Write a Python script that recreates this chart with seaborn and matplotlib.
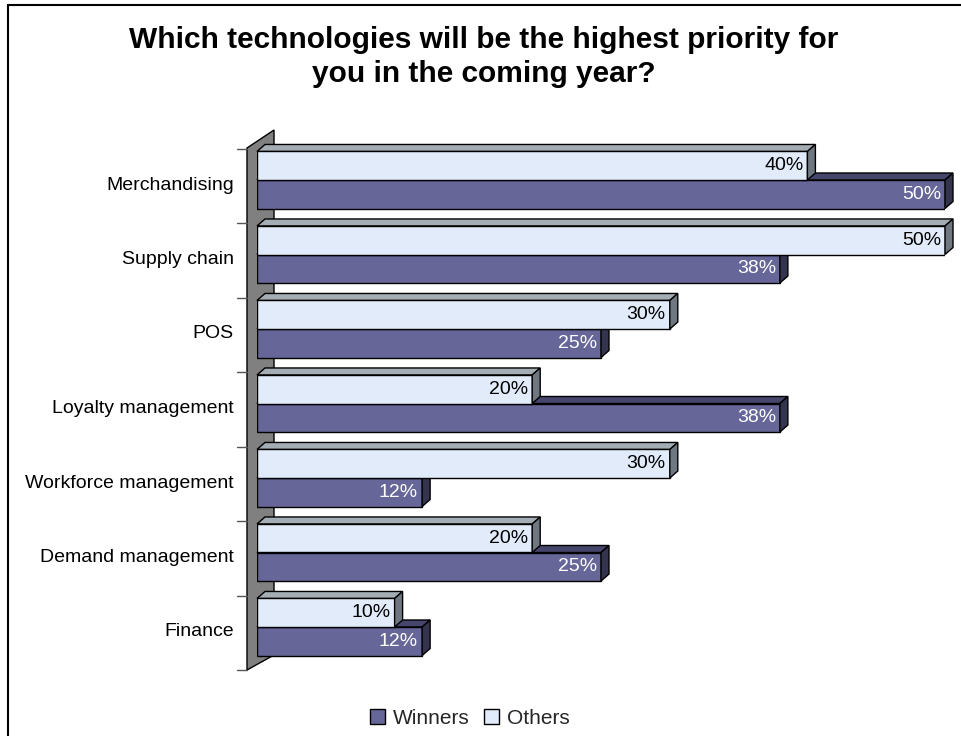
import numpy as np
import pandas as pd
import seaborn as sns
import matplotlib
matplotlib.use("Agg")
import matplotlib.pyplot as plt
from matplotlib.patches import Polygon, Patch
from matplotlib.lines import Line2D

categories = ["Merchandising", "Supply chain", "POS", "Loyalty management",
              "Workforce management", "Demand management", "Finance"]
winners = [50, 38, 25, 38, 12, 25, 12]
others = [40, 50, 30, 20, 30, 20, 10]

title_lines = ["Which technologies will be the highest priority for",
               "you in the coming year?"]

sns.set_theme(style="white")
plt.rcParams["font.family"] = ["Liberation Sans", "DejaVu Sans"]

W, H = 962, 736
fig = plt.figure(figsize=(W / 100, H / 100), dpi=100)
fig.patch.set_facecolor("white")

# plot area in pixel terms
PX_L, PX_R = 257, 945
PY_T, PY_B = 142.75, 664.25
ax = fig.add_axes([PX_L / W, 1 - PY_B / H, (PX_R - PX_L) / W, (PY_B - PY_T) / H])
ax.set_facecolor("none")

df = pd.DataFrame({
    "category": categories * 2,
    "group": ["Winners"] * len(categories) + ["Others"] * len(categories),
    "value": winners + others,
})

col = {
    "Others": {"front": "#E1EBF9", "top": "#A4ACB4", "side": "#6F7780"},
    "Winners": {"front": "#666699", "top": "#46466C", "side": "#34344F"},
}

sns.barplot(data=df, y="category", x="value", hue="group",
            hue_order=["Others", "Winners"], order=categories,
            palette={k: v["front"] for k, v in col.items()},
            orient="h", width=0.766, saturation=1,
            edgecolor="black", linewidth=1.0, legend=False, ax=ax)

ax.set_xlim(0, 50)
ax.set_ylim(6.5, -0.5)
for s in ax.spines.values():
    s.set_visible(False)
ax.set_xticks([])
ax.set_yticks([])
ax.set_xlabel("")
ax.set_ylabel("")

# pixel -> data helpers
sx = (PX_R - PX_L) / 50.0
sy = (PY_B - PY_T) / 7.0
def xd(px):
    return (px - PX_L) / sx
def yd(py):
    return -0.5 + (py - PY_T) / sy

DX = 8 / sx
DY = -7 / sy

# side wall
wall = Polygon([(xd(247), yd(148)), (xd(274), yd(130)),
                (xd(274), yd(655)), (xd(247), yd(670))],
               closed=True, facecolor="#808080", edgecolor="black",
               linewidth=1.0, zorder=1, clip_on=False)
ax.add_patch(wall)

# boundary ticks on the wall
for k in range(len(categories) + 1):
    yk = k - 0.5 + 6 / sy
    ax.add_line(Line2D([xd(237), xd(247)], [yk, yk], color="#555555",
                       linewidth=1.0, clip_on=False, zorder=1))

# depth faces and value labels
order = ["Others", "Winners"]
base_z = {"Others": 4, "Winners": 2}
for grp, cont in zip(order, ax.containers):
    c = col[grp]
    z = base_z[grp]
    for bar in cont:
        bar.set_zorder(z + 0.5)
        x1 = bar.get_width()
        y0 = bar.get_y()
        y1 = y0 + bar.get_height()
        top = Polygon([(0, y0), (DX, y0 + DY), (x1 + DX, y0 + DY), (x1, y0)],
                      closed=True, facecolor=c["top"], edgecolor="black",
                      linewidth=1.0, zorder=z, clip_on=False)
        side = Polygon([(x1, y0), (x1 + DX, y0 + DY), (x1 + DX, y1 + DY), (x1, y1)],
                       closed=True, facecolor=c["side"], edgecolor="black",
                       linewidth=1.0, zorder=z + 0.6, clip_on=False)
        ax.add_patch(top)
        ax.add_patch(side)
        ax.text(x1 - 4 / sx, (y0 + y1) / 2, f"{x1:.0f}%", ha="right", va="center",
                fontsize=14, color="black" if grp == "Others" else "white",
                zorder=z + 1, clip_on=False)

# category labels
for i, name in enumerate(categories):
    ax.text(xd(234), i + 5 / sy, name, ha="right", va="center",
            fontsize=14, color="black")

# title, two centred lines
for line, base in zip(title_lines, [48, 82]):
    fig.text(484 / W, 1 - base / H, line, ha="center", va="baseline",
             fontsize=21.5, fontweight="bold", color="black")

# legend
handles = [Patch(facecolor=col["Winners"]["front"], edgecolor="black", linewidth=1.0),
           Patch(facecolor=col["Others"]["front"], edgecolor="black", linewidth=1.0)]
fig.legend(handles, ["Winners", "Others"], loc="center", ncol=2,
           bbox_to_anchor=(470 / W, 1 - 718 / H), frameon=False,
           fontsize=15, handlelength=0.7, handleheight=0.7,
           handletextpad=0.4, columnspacing=0.7)

# outer frame on top and left edges
fig.add_artist(Line2D([8 / W, 8 / W], [0, 1 - 5 / H], transform=fig.transFigure,
                      color="black", linewidth=1.5))
fig.add_artist(Line2D([8 / W, 1], [1 - 5 / H, 1 - 5 / H], transform=fig.transFigure,
                      color="black", linewidth=1.5))

fig.savefig("out.png", dpi=100, facecolor="white")
